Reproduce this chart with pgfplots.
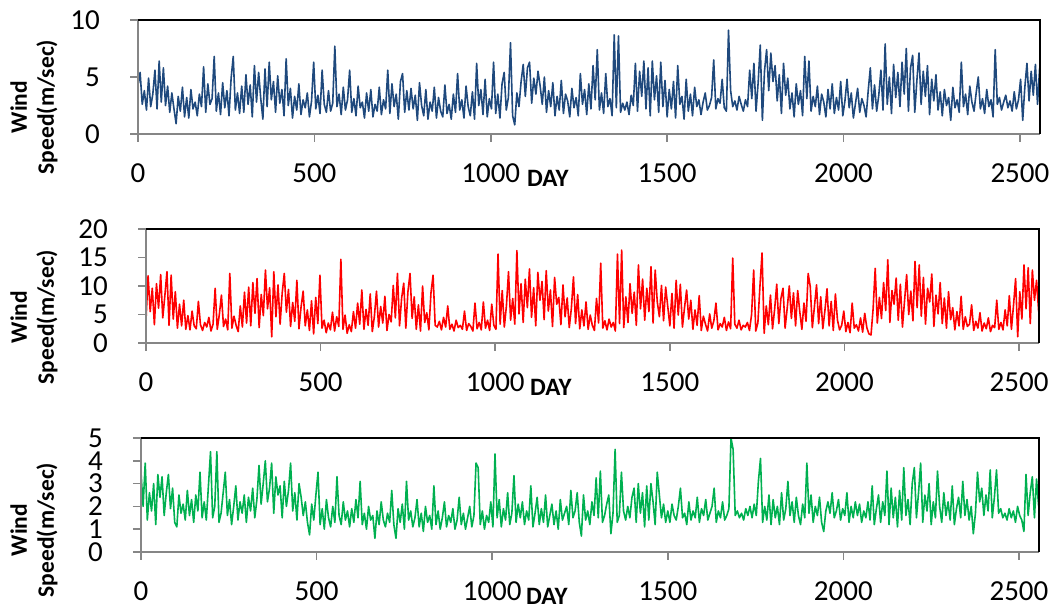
\documentclass[border=0pt]{standalone}
\usepackage{fontspec}
\setmainfont{Carlito}
\usepackage{pgfplots}
\pgfplotsset{compat=1.18}

\definecolor{wblue}{RGB}{31,73,125}
\definecolor{wred}{RGB}{255,0,0}
\definecolor{wgreen}{RGB}{0,176,80}
\definecolor{axgray}{RGB}{134,134,134}

\pgfplotsset{
  wind/.style={
    scale only axis, height=114pt, anchor=south west,
    xmin=0, xmax=2557, xtick={0,500,...,2500},
    axis line style={draw=none},
    tick align=outside, xtick pos=lower, ytick pos=left,
    major tick length=8pt,
    tick style={axgray, line width=1.5pt},
    ticklabel style={font=\fontsize{29}{34}\selectfont, inner sep=0pt},
    xticklabel style={anchor=base, yshift=-41pt},
    yticklabel style={anchor=east, xshift=-30pt},
    /pgf/number format/1000 sep={},
    /pgf/number format/assume math mode=true,
    clip=false,
  },
  series/.style={line width=1.6pt, line join=round, no markers},
}
\newcommand{\frameit}{%
  \draw[axgray, line width=1.5pt] (rel axis cs:0,1) -- (rel axis cs:0,0) -- (rel axis cs:1,0);
  \draw[black, line width=2pt] (rel axis cs:0,1) -- (rel axis cs:1,1) -- (rel axis cs:1,0);
}

\begin{document}
\begin{tikzpicture}
\useasboundingbox (0,0) rectangle (1058pt,612pt);

% ---- panel 1
\begin{axis}[wind, at={(138pt,478pt)}, width=902pt,
  ymin=0, ymax=10, ytick={0,5,10}]
\addplot[series, wblue] table[row sep=\\, header=false, x expr=\coordindex*6, y index=0] {
4.3\\5.4\\2.6\\3.8\\2.1\\4.9\\2.4\\3.5\\5.6\\2.2\\
6.4\\2.8\\5.8\\2.5\\4.2\\1.9\\3.6\\2.2\\0.9\\3.3\\
2.0\\4.1\\1.5\\3.2\\1.4\\3.9\\2.2\\2.8\\1.6\\3.5\\
2.4\\5.9\\1.9\\4.4\\2.6\\3.1\\6.8\\2.0\\3.6\\1.7\\
4.5\\2.3\\3.8\\1.6\\4.9\\6.8\\2.1\\3.6\\1.8\\4.2\\
1.9\\5.2\\2.6\\4.3\\1.5\\6.0\\2.8\\5.4\\3.1\\1.3\\
5.7\\2.4\\6.3\\3.0\\4.6\\1.9\\5.1\\2.7\\3.9\\1.6\\
6.6\\2.5\\4.0\\1.4\\3.3\\2.1\\4.4\\1.7\\3.0\\2.3\\
3.6\\1.5\\2.9\\6.3\\2.2\\3.4\\1.8\\5.6\\2.6\\1.9\\
3.8\\2.0\\2.7\\7.7\\2.4\\3.5\\1.7\\4.1\\2.1\\3.0\\
5.6\\1.9\\3.1\\1.6\\4.2\\2.3\\2.8\\1.4\\3.6\\2.0\\
3.9\\1.5\\2.6\\2.0\\4.1\\1.7\\3.0\\2.2\\5.6\\1.8\\
4.4\\2.4\\3.5\\1.3\\4.6\\5.3\\1.9\\3.8\\2.1\\4.0\\
2.2\\3.4\\1.2\\4.5\\2.5\\1.6\\3.9\\1.3\\2.8\\2.0\\
4.1\\1.4\\3.2\\2.0\\1.5\\4.3\\1.8\\2.6\\1.3\\3.5\\
1.9\\5.3\\2.1\\3.0\\1.4\\4.2\\2.4\\1.6\\3.7\\1.3\\
6.2\\2.5\\3.9\\1.7\\4.8\\1.5\\3.1\\2.2\\6.3\\1.8\\
3.5\\1.4\\4.4\\5.4\\2.1\\3.2\\8.0\\1.6\\0.8\\3.6\\
2.4\\4.6\\6.1\\3.3\\5.8\\6.3\\2.7\\4.9\\3.5\\5.5\\
4.2\\2.6\\5.0\\1.9\\3.8\\2.4\\4.5\\1.6\\3.3\\2.1\\
4.7\\1.8\\3.5\\2.9\\1.5\\4.0\\2.3\\3.2\\1.6\\5.3\\
2.6\\3.9\\1.7\\4.4\\2.2\\6.0\\3.0\\7.4\\2.1\\3.6\\
1.8\\5.3\\2.4\\3.1\\1.6\\8.7\\2.3\\8.6\\1.9\\2.7\\
2.1\\2.8\\1.7\\3.4\\2.5\\6.2\\2.0\\5.5\\3.3\\6.4\\
2.2\\5.8\\1.6\\6.4\\3.0\\5.1\\1.9\\6.3\\2.4\\4.7\\
1.5\\3.9\\2.2\\4.6\\1.4\\6.0\\2.6\\3.3\\1.3\\4.8\\
2.0\\3.5\\1.6\\4.1\\2.4\\3.0\\1.7\\2.8\\3.6\\2.1\\
2.5\\3.2\\6.5\\2.2\\3.1\\2.7\\4.8\\2.3\\2.0\\9.1\\
3.8\\2.4\\2.9\\2.1\\3.3\\2.6\\2.0\\3.0\\2.4\\5.6\\
3.1\\6.2\\2.0\\4.5\\7.8\\1.2\\5.5\\7.4\\3.8\\7.1\\
4.6\\6.0\\2.9\\5.2\\1.8\\6.2\\3.4\\4.9\\2.2\\3.6\\
1.5\\4.4\\2.6\\3.8\\1.6\\6.8\\3.1\\6.4\\2.0\\3.3\\
2.4\\4.2\\1.7\\3.5\\2.8\\1.5\\3.9\\2.2\\4.4\\1.8\\
3.2\\2.1\\4.6\\1.6\\2.9\\4.8\\2.3\\3.6\\1.4\\2.7\\
4.0\\1.9\\3.1\\2.5\\1.5\\3.8\\5.8\\2.2\\4.3\\2.0\\
3.4\\5.6\\2.1\\7.9\\2.6\\5.0\\1.8\\6.1\\3.2\\5.4\\
2.4\\6.3\\3.5\\7.5\\2.0\\5.8\\6.9\\1.9\\4.7\\7.1\\
2.6\\5.5\\3.3\\6.0\\1.7\\4.8\\2.9\\5.2\\2.1\\3.7\\
1.6\\3.9\\2.5\\3.2\\1.2\\4.1\\2.3\\3.0\\1.9\\6.3\\
2.4\\3.5\\1.7\\4.2\\2.8\\2.0\\3.6\\5.0\\2.2\\3.1\\
1.8\\3.9\\2.4\\3.0\\1.5\\7.4\\2.6\\3.2\\2.1\\2.8\\
3.4\\2.3\\2.9\\2.0\\3.7\\2.2\\3.0\\4.8\\1.2\\4.1\\
6.2\\2.9\\5.5\\3.4\\6.1\\2.6\\5.8\\
};
\frameit
\end{axis}

% ---- panel 2
\begin{axis}[wind, at={(146pt,269pt)}, width=893pt,
  ymin=0, ymax=20, ytick={0,5,...,20}]
\addplot[series, wred] table[row sep=\\, header=false, x expr=\coordindex*6, y index=0] {
4.0\\11.8\\5.5\\9.6\\3.2\\10.4\\6.1\\12.0\\4.4\\8.3\\
12.5\\3.1\\11.9\\4.2\\9.0\\2.6\\6.8\\3.0\\7.5\\2.4\\
4.8\\2.3\\5.6\\3.0\\2.5\\7.3\\3.2\\2.2\\3.6\\2.8\\
4.5\\2.1\\3.3\\9.6\\2.4\\5.0\\8.4\\2.9\\4.2\\2.3\\
12.2\\2.6\\4.7\\3.1\\2.0\\6.5\\2.8\\8.9\\3.5\\9.8\\
3.0\\10.6\\5.2\\11.3\\2.7\\8.5\\4.8\\12.8\\6.0\\9.7\\
1.1\\12.5\\4.6\\10.2\\3.3\\8.8\\12.2\\5.4\\9.4\\2.9\\
7.1\\3.8\\11.0\\2.5\\6.3\\9.1\\3.0\\5.8\\2.2\\7.4\\
1.6\\8.0\\3.4\\11.9\\2.6\\4.0\\1.8\\3.5\\2.3\\5.4\\
2.1\\4.6\\2.9\\14.7\\2.4\\4.9\\1.7\\3.2\\2.0\\5.5\\
2.6\\7.0\\3.3\\9.3\\2.4\\5.9\\3.1\\8.6\\2.0\\4.7\\
9.1\\2.8\\6.4\\3.5\\8.2\\2.2\\5.0\\3.7\\10.1\\4.4\\
12.2\\3.0\\7.9\\10.5\\2.6\\9.0\\12.2\\4.3\\8.1\\2.4\\
6.7\\2.1\\10.0\\3.6\\5.3\\2.3\\8.8\\11.9\\3.1\\2.8\\
3.8\\2.3\\4.5\\2.8\\6.5\\2.4\\3.3\\2.1\\4.0\\2.7\\
3.1\\2.4\\5.6\\2.2\\3.4\\2.9\\2.1\\7.0\\2.5\\3.6\\
2.3\\7.2\\2.6\\4.0\\2.2\\6.8\\3.1\\2.4\\15.6\\3.3\\
9.2\\2.8\\6.5\\12.5\\4.0\\7.8\\3.3\\16.2\\5.1\\10.4\\
3.6\\11.2\\6.2\\13.0\\4.5\\9.7\\3.0\\12.4\\7.5\\10.8\\
4.1\\12.7\\5.6\\9.3\\2.9\\11.5\\6.8\\8.0\\3.2\\10.2\\
4.6\\7.9\\2.7\\6.1\\11.6\\3.4\\8.5\\2.5\\5.8\\3.0\\
7.2\\2.4\\4.9\\3.1\\2.2\\7.8\\3.5\\14.0\\2.6\\3.9\\
2.3\\4.2\\2.8\\3.6\\2.1\\15.6\\3.4\\16.3\\2.7\\8.1\\
3.6\\10.4\\5.2\\8.9\\3.1\\13.7\\6.0\\11.2\\4.0\\9.6\\
5.5\\13.4\\3.5\\12.8\\7.2\\4.6\\10.1\\3.9\\9.8\\6.4\\
3.0\\8.7\\2.6\\11.0\\4.9\\10.3\\2.8\\6.2\\9.3\\4.2\\
7.5\\2.4\\5.8\\3.1\\8.3\\2.2\\4.7\\3.3\\2.1\\5.1\\
2.6\\3.9\\7.0\\2.3\\3.4\\2.8\\4.5\\2.2\\3.7\\2.5\\
14.9\\3.3\\2.6\\4.0\\2.3\\3.1\\2.8\\3.6\\2.2\\5.0\\
12.8\\2.1\\3.5\\10.0\\15.8\\1.7\\6.5\\3.2\\8.4\\2.5\\
5.9\\10.3\\3.4\\7.8\\9.6\\2.6\\6.1\\10.0\\4.3\\8.8\\
3.0\\9.2\\5.5\\2.4\\7.0\\3.8\\12.2\\9.9\\2.7\\6.4\\
10.2\\3.4\\8.1\\2.5\\5.7\\9.5\\3.0\\7.3\\2.2\\8.6\\
4.0\\2.3\\3.1\\5.6\\2.0\\3.6\\1.8\\7.0\\2.6\\3.2\\
2.1\\4.4\\1.9\\5.2\\2.7\\1.6\\1.4\\6.0\\13.1\\3.5\\
8.0\\4.3\\10.6\\5.7\\14.6\\3.6\\9.2\\6.8\\11.4\\4.0\\
10.3\\2.8\\7.4\\12.0\\5.0\\9.1\\3.9\\14.3\\6.2\\13.7\\
4.7\\11.5\\3.3\\9.6\\7.2\\12.1\\2.9\\8.4\\5.1\\10.6\\
3.4\\7.9\\2.6\\9.0\\4.1\\6.2\\2.3\\5.5\\3.0\\8.2\\
2.4\\4.6\\2.9\\3.3\\6.7\\2.2\\3.8\\2.6\\5.3\\2.1\\
3.5\\2.5\\4.4\\2.0\\3.1\\2.7\\7.5\\2.4\\3.6\\2.3\\
5.8\\3.0\\8.3\\2.4\\6.6\\11.3\\1.1\\9.0\\4.2\\13.7\\
6.0\\13.2\\3.4\\12.8\\7.5\\11.0\\5.5\\
};
\frameit
\end{axis}

% ---- panel 3
\begin{axis}[wind, at={(141pt,60pt)}, width=898pt,
  ymin=0, ymax=5, ytick={0,...,5}]
\addplot[series, wgreen] table[row sep=\\, header=false, x expr=\coordindex*6, y index=0] {
3.5\\2.0\\3.9\\1.4\\2.6\\1.8\\3.0\\1.2\\3.4\\2.4\\
3.3\\1.6\\2.6\\3.4\\1.9\\2.8\\1.3\\1.1\\2.5\\1.7\\
2.1\\1.4\\2.7\\1.6\\2.3\\1.3\\2.5\\1.8\\3.5\\1.5\\
2.2\\1.4\\2.9\\4.4\\1.5\\2.0\\4.4\\1.3\\1.7\\2.6\\
3.5\\1.6\\2.3\\1.2\\2.0\\2.9\\1.4\\2.2\\1.7\\2.5\\
1.3\\2.4\\1.8\\2.8\\1.5\\2.3\\3.8\\2.1\\3.0\\4.0\\
2.2\\2.8\\3.9\\1.7\\3.3\\2.5\\2.9\\1.5\\3.1\\2.0\\
2.7\\3.9\\1.8\\2.6\\1.4\\3.0\\2.4\\1.6\\2.2\\1.3\\
0.75\\2.1\\1.4\\2.5\\3.5\\1.2\\1.9\\1.0\\2.3\\1.5\\
1.1\\2.0\\1.3\\3.3\\1.6\\1.2\\2.2\\1.4\\1.8\\1.1\\
1.9\\1.3\\2.3\\1.5\\3.1\\1.2\\1.7\\1.0\\2.0\\1.4\\
1.6\\0.6\\1.8\\1.2\\2.2\\1.4\\1.1\\1.7\\1.3\\2.7\\
1.2\\0.6\\1.9\\1.3\\2.1\\1.0\\3.1\\1.4\\1.8\\1.1\\
1.5\\2.3\\1.1\\1.7\\0.9\\2.0\\1.3\\1.6\\1.0\\2.9\\
1.2\\1.8\\1.0\\1.5\\2.2\\1.1\\1.6\\1.3\\1.9\\1.0\\
1.4\\2.4\\1.2\\1.7\\1.0\\1.5\\2.0\\1.1\\1.6\\3.9\\
3.7\\1.2\\1.8\\1.0\\1.6\\1.3\\2.2\\1.1\\4.3\\1.5\\
2.3\\1.1\\1.9\\1.4\\2.6\\1.2\\1.7\\3.35\\1.3\\2.1\\
1.5\\2.2\\1.2\\1.8\\1.4\\2.9\\1.1\\1.7\\2.4\\1.2\\
1.9\\1.3\\2.5\\1.1\\1.6\\2.1\\1.2\\1.8\\1.0\\2.3\\
1.4\\1.7\\2.0\\1.2\\2.7\\1.5\\1.8\\2.6\\1.3\\0.7\\
2.5\\1.4\\1.8\\1.2\\2.2\\1.6\\3.25\\1.5\\3.55\\1.3\\
1.6\\2.1\\2.5\\0.8\\1.7\\4.5\\1.3\\1.6\\3.5\\1.8\\
1.4\\2.0\\1.5\\2.4\\2.8\\1.3\\3.0\\1.7\\2.6\\1.1\\
2.9\\1.4\\3.0\\2.2\\1.2\\3.5\\2.5\\1.5\\2.1\\1.3\\
1.8\\1.3\\2.1\\1.6\\1.4\\2.0\\2.8\\1.5\\1.7\\1.2\\
2.2\\1.4\\1.8\\1.5\\2.4\\1.3\\1.9\\1.6\\2.3\\1.4\\
1.7\\2.0\\2.8\\1.3\\1.8\\1.5\\2.2\\1.4\\1.6\\1.9\\
5.0\\4.5\\1.6\\1.8\\1.5\\1.7\\1.4\\1.9\\1.6\\2.0\\
1.5\\2.1\\1.6\\3.1\\4.1\\1.3\\2.0\\1.4\\2.5\\1.2\\
2.3\\1.5\\2.0\\1.2\\2.6\\1.4\\1.9\\3.1\\1.6\\2.2\\
1.3\\2.4\\1.6\\1.2\\2.1\\1.5\\3.9\\1.7\\2.5\\1.3\\
2.0\\1.6\\2.4\\1.3\\0.9\\1.8\\2.2\\1.7\\2.6\\1.5\\
1.8\\2.3\\1.4\\1.9\\1.6\\2.6\\1.3\\2.0\\1.5\\2.2\\
1.6\\2.1\\1.3\\1.8\\1.5\\2.2\\1.4\\2.9\\1.2\\1.9\\
2.5\\1.3\\2.2\\1.6\\3.55\\1.2\\2.8\\1.5\\2.4\\1.1\\
2.7\\1.4\\3.7\\1.6\\2.3\\1.2\\3.0\\3.7\\1.5\\2.6\\
3.9\\1.3\\2.5\\1.8\\3.0\\1.2\\2.2\\1.5\\3.55\\2.0\\
1.3\\2.6\\1.6\\2.2\\1.4\\2.9\\1.2\\1.9\\2.4\\1.5\\
3.1\\1.6\\2.3\\1.4\\2.0\\0.8\\1.7\\3.5\\2.2\\2.8\\
1.6\\2.5\\1.8\\3.6\\1.5\\2.4\\3.6\\1.7\\1.9\\1.5\\
1.7\\1.4\\1.9\\1.5\\1.8\\1.3\\2.0\\1.6\\1.4\\0.9\\
3.4\\1.6\\2.6\\3.3\\1.5\\3.2\\2.0\\
};
\frameit
\end{axis}

% ---- axis titles
\begin{scope}[font=\bfseries\fontsize{23.5}{27}\selectfont]
  \node[rotate=90, align=center] at (34pt,505pt) {Wind\\Speed(m/sec)};
  \node[rotate=90, align=center] at (34pt,295pt) {Wind\\Speed(m/sec)};
  \node[rotate=90, align=center] at (34pt,82pt)  {Wind\\Speed(m/sec)};
  \node[anchor=base west, inner sep=0pt, font=\bfseries\fontsize{25}{29}\selectfont] at (527pt,425pt) {DAY};
  \node[anchor=base west, inner sep=0pt, font=\bfseries\fontsize{25}{29}\selectfont] at (530pt,216pt) {DAY};
  \node[anchor=base west, inner sep=0pt, font=\bfseries\fontsize{25}{29}\selectfont] at (526pt,7pt)   {DAY};
\end{scope}
\end{tikzpicture}
\end{document}
